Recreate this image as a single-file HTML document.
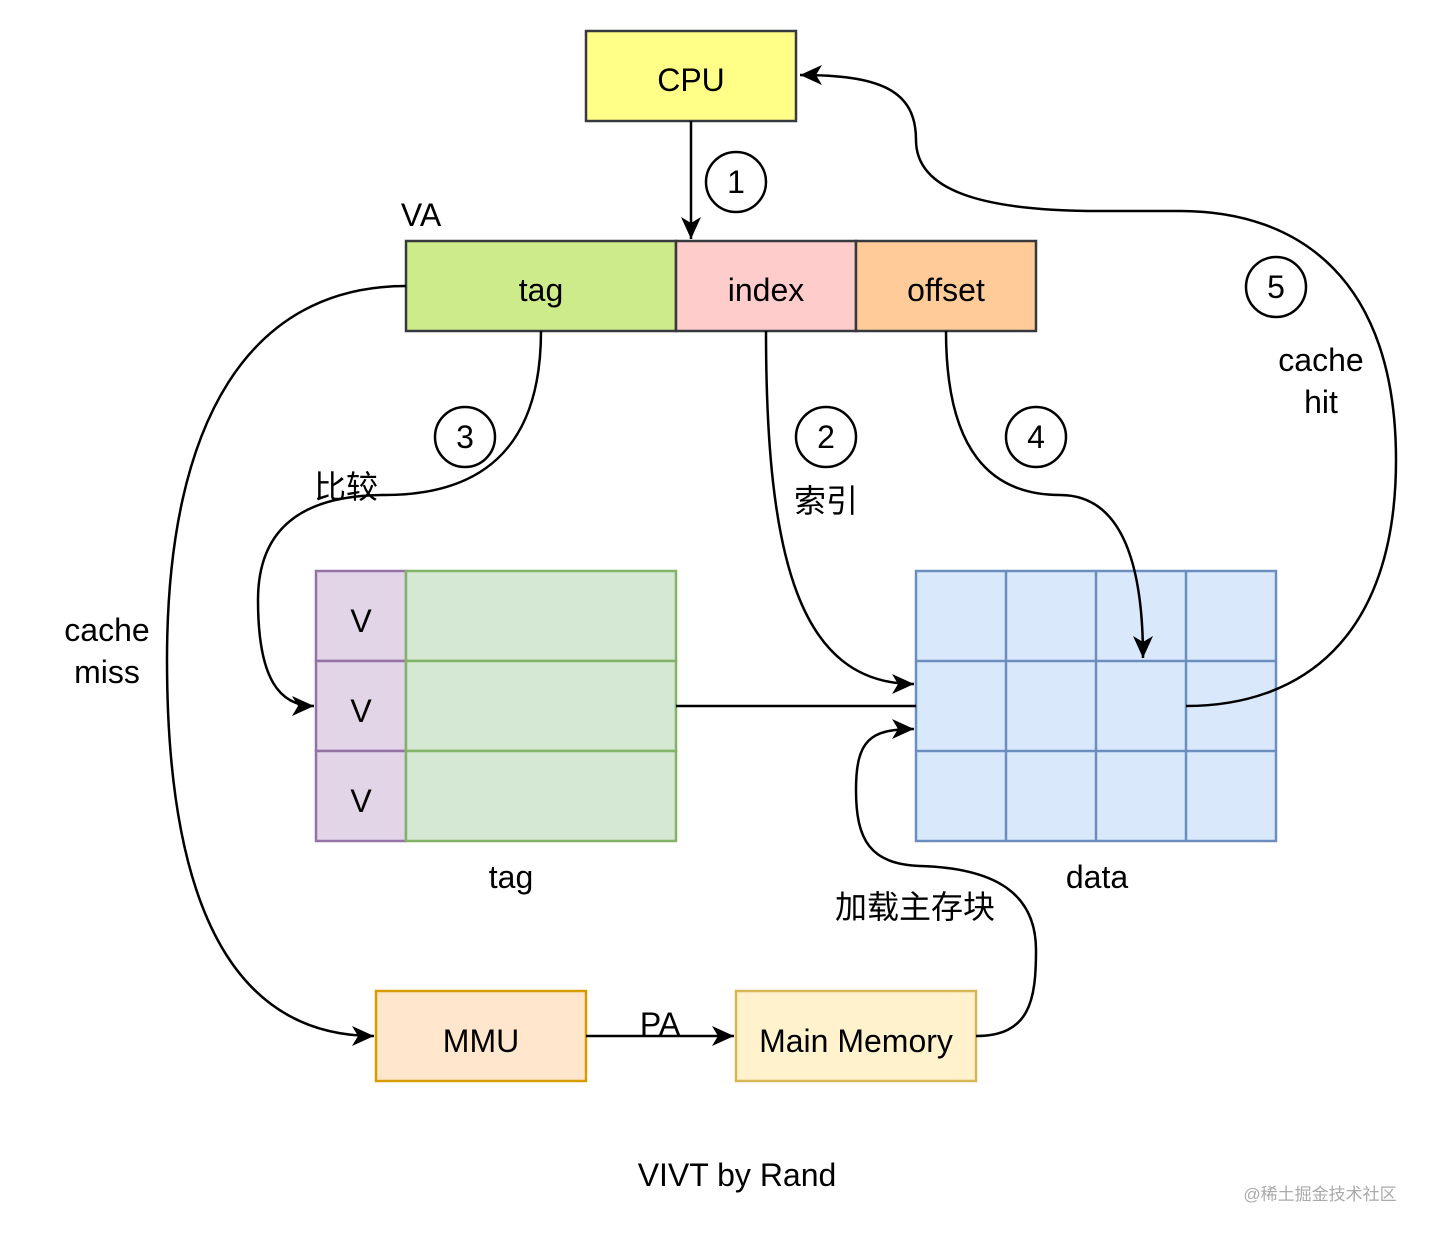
<!DOCTYPE html>
<html><head><meta charset="utf-8"><style>
html,body{margin:0;padding:0;background:#fff}
svg{display:block}
text{font-family:"Liberation Sans","Noto Sans CJK SC",sans-serif;fill:#000}
</style></head><body>
<svg width="1431" height="1236" viewBox="0 0 1431 1236" xmlns="http://www.w3.org/2000/svg">
<defs>
<marker id="a" markerWidth="24" markerHeight="20" refX="22" refY="10" orient="auto" markerUnits="userSpaceOnUse">
<path d="M0,0 L22,10 L0,20 L6,10 Z" fill="#000"/>
</marker>
</defs>
<rect width="1431" height="1236" fill="#fff"/>
<rect x="586" y="31" width="210" height="90" fill="#ffff88" stroke="#36393d" stroke-width="2.5"/>
<rect x="406" y="241" width="270" height="90" fill="#cdeb8b" stroke="#36393d" stroke-width="2.5"/>
<rect x="676" y="241" width="180" height="90" fill="#ffcccc" stroke="#36393d" stroke-width="2.5"/>
<rect x="856" y="241" width="180" height="90" fill="#ffcc99" stroke="#36393d" stroke-width="2.5"/>
<g stroke="#9673a6" stroke-width="2.5" fill="#e1d5e7">
<rect x="316" y="571" width="90" height="90"/><rect x="316" y="661" width="90" height="90"/><rect x="316" y="751" width="90" height="90"/>
</g>
<g stroke="#82b366" stroke-width="2.5" fill="#d5e8d4">
<rect x="406" y="571" width="270" height="90"/><rect x="406" y="661" width="270" height="90"/><rect x="406" y="751" width="270" height="90"/>
</g>
<g stroke="#6c8ebf" stroke-width="2.5" fill="#dae8fc">
<rect x="916" y="571" width="360" height="270"/>
<path d="M1006,571V841M1096,571V841M1186,571V841M916,661H1276M916,751H1276" fill="none"/>
</g>
<rect x="376" y="991" width="210" height="90" fill="#ffe6cc" stroke="#d79b00" stroke-width="2.5"/>
<rect x="736" y="991" width="240" height="90" fill="#fff2cc" stroke="#d6b656" stroke-width="2.5"/>
<g stroke-width="2.5" fill="none" stroke="#000">
<path d="M691,121 L691,239" marker-end="url(#a)"/>
<path d="M541,331 C541,440 490,495 385,495 C300,495 258,530 258,600 C258,680 280,706 314,706" marker-end="url(#a)"/>
<path d="M766,331 C766,560 800,684 914,684" marker-end="url(#a)"/>
<path d="M946,331 C946,450 990,495 1060,495 C1120,495 1143,560 1143,658" marker-end="url(#a)"/>
<path d="M1186,706 C1300,706 1396,640 1396,460 C1396,280 1300,211 1180,211 L1100,211 C980,211 916,190 916,140 C916,90 880,75 800,75" marker-end="url(#a)"/>
<path d="M406,286 C250,286 167,420 167,660 C167,900 230,1036 374,1036" marker-end="url(#a)"/>
<path d="M676,706 L916,706"/>
<path d="M586,1036 L734,1036" marker-end="url(#a)"/>
<path d="M976,1036 C1030,1036 1036,1000 1036,950 C1036,890 990,868 920,866 C870,864 856,840 856,790 C856,740 870,729 914,729" marker-end="url(#a)"/>
</g>
<g stroke="#000" stroke-width="2.5" fill="#fff">
<circle cx="736" cy="182" r="30"/><circle cx="465" cy="437" r="30"/><circle cx="826" cy="437" r="30"/><circle cx="1036" cy="437" r="30"/><circle cx="1276" cy="287" r="30"/>
</g>
<g font-size="32" text-anchor="middle">
<text x="691" y="91">CPU</text>
<text x="541" y="301">tag</text>
<text x="766" y="301">index</text>
<text x="946" y="301">offset</text>
<text x="361" y="632">V</text><text x="361" y="722">V</text><text x="361" y="812">V</text>
<text x="481" y="1052">MMU</text>
<text x="856" y="1052">Main Memory</text>
<text x="736" y="193">1</text><text x="465" y="448">3</text><text x="826" y="448">2</text><text x="1036" y="448">4</text><text x="1276" y="298">5</text>
<text x="421" y="226">VA</text>
<text x="107" y="641">cache</text><text x="107" y="683">miss</text>
<text x="1321" y="371">cache</text><text x="1321" y="413">hit</text>
<text x="511" y="888">tag</text>
<text x="1097" y="888">data</text>
<text x="660" y="1035">PA</text>
<text x="737" y="1186">VIVT by Rand</text>
<text x="346" y="498">比较</text>
<text x="826" y="512">索引</text>
<text x="915" y="918">加载主存块</text>
</g>
<text x="1320" y="1200" font-size="17" text-anchor="middle" style="fill:#aaa">@稀土掘金技术社区</text>
</svg>
</body></html>
